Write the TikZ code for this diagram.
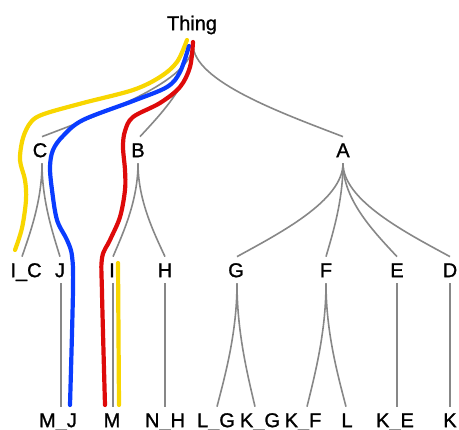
\documentclass[tikz,border=0pt]{standalone}
\usepackage{fontspec}
\setmainfont[FakeBold=1.2]{Liberation Sans}
\usetikzlibrary{calc}
\definecolor{edgegray}{RGB}{135,135,135}
\definecolor{pyellow}{RGB}{248,214,0}
\definecolor{pblue}{RGB}{10,60,255}
\definecolor{pred}{RGB}{222,10,10}
\tikzset{
  lbl/.style={font=\fontsize{20}{24}\selectfont, text height=14.3pt, text depth=0pt, inner xsep=0pt, inner ysep=6pt},
  gedge/.style={draw=edgegray, line width=1.6pt},
  hpath/.style={line width=4.2pt, line cap=round, line join=round},
}
\newcommand\tedge[2]{\draw[gedge] let \p1=(#1), \p2=(#2) in (\p1) .. controls (\x1,{\y1+0.4*(\y2-\y1)}) and ({\x1+0.6*(\x2-\x1)},{\y2-0.25*(\y2-\y1)}) .. (\p2);}
\begin{document}
\begin{tikzpicture}[x=1pt,y=-1pt]
\useasboundingbox (0,0) rectangle (459,430);
% labels
\node[lbl] (Thing) at (192,23) {Thing};
\node[lbl] (C) at (40,150) {C};
\node[lbl] (B) at (138,150) {B};
\node[lbl] (A) at (343,150) {A};
\node[lbl] (IC) at (26,270) {I\_C};
\node[lbl] (J) at (60,270) {J};
\node[lbl] (I) at (112,270) {I};
\node[lbl] (H) at (165,270) {H};
\node[lbl] (G) at (236,270) {G};
\node[lbl] (F) at (326,270) {F};
\node[lbl] (E) at (397,270) {E};
\node[lbl] (D) at (450,270) {D};
\node[lbl] (MJ) at (58,420) {M\_J};
\node[lbl] (M) at (112,420) {M};
\node[lbl] (NH) at (165,420) {N\_H};
\node[lbl] (LG) at (216,420) {L\_G};
\node[lbl] (KG) at (260,420) {K\_G};
\node[lbl] (KF) at (303,420) {K\_F};
\node[lbl] (L) at (347,420) {L};
\node[lbl] (KE) at (395,420) {K\_E};
\node[lbl] (K) at (450,420) {K};
% gray edges
\coordinate (ts) at ([xshift=1pt,yshift=-8pt]Thing.south);
\tedge{ts}{[xshift=2pt]C.north}
\tedge{ts}{[xshift=2pt]B.north}
\tedge{ts}{A.north}
\tedge{[xshift=2pt]C.south}{[xshift=-4pt]IC.north}
\tedge{[xshift=2pt]C.south}{J.north}
\tedge{B.south}{[xshift=1pt]I.north}
\tedge{B.south}{H.north}
\tedge{A.south}{[xshift=1pt]G.north}
\tedge{A.south}{F.north}
\tedge{A.south}{E.north}
\tedge{A.south}{D.north}
\tedge{[xshift=1pt]G.south}{[xshift=1pt]LG.north}
\tedge{[xshift=1pt]G.south}{[xshift=-5pt]KG.north}
\tedge{F.south}{[xshift=4pt]KF.north}
\tedge{F.south}{[xshift=-1pt]L.north}
\draw[gedge] ([xshift=1pt]J.south) -- ([xshift=1pt]J.south |- MJ.north);
\draw[gedge] ([xshift=1pt]I.south) -- ([xshift=1pt]I.south |- M.north);
\draw[gedge] (H.south) -- (H.south |- NH.north);
\draw[gedge] (E.south) -- (E.south |- KE.north);
\draw[gedge] (D.south) -- (D.south |- K.north);
% highlighted paths
\draw[hpath, pyellow] plot[smooth, tension=0.55] coordinates {(187,40) (177,62) (160,77) (133,90) (83,103) (44,114) (31,122) (23,138) (20,160) (25,180) (26,200) (22,228) (15,250)};
\draw[hpath, pyellow] (118,263) -- (119,405);
\draw[hpath, pblue] plot[smooth, tension=0.55] coordinates {(189,46) (180,72) (167,87) (133,101) (83,120) (63,136) (53,150) (50,167) (52,190) (57,220) (67,240) (72,256) (73,290) (70,405)};
\draw[hpath, pred] plot[smooth, tension=0.55] coordinates {(193,42) (190,67) (180,87) (160,103) (133,117) (125,131) (123,147) (125,170) (125,190) (120,217) (110,240) (102,258) (102,293) (105,405)};
\end{tikzpicture}
\end{document}
